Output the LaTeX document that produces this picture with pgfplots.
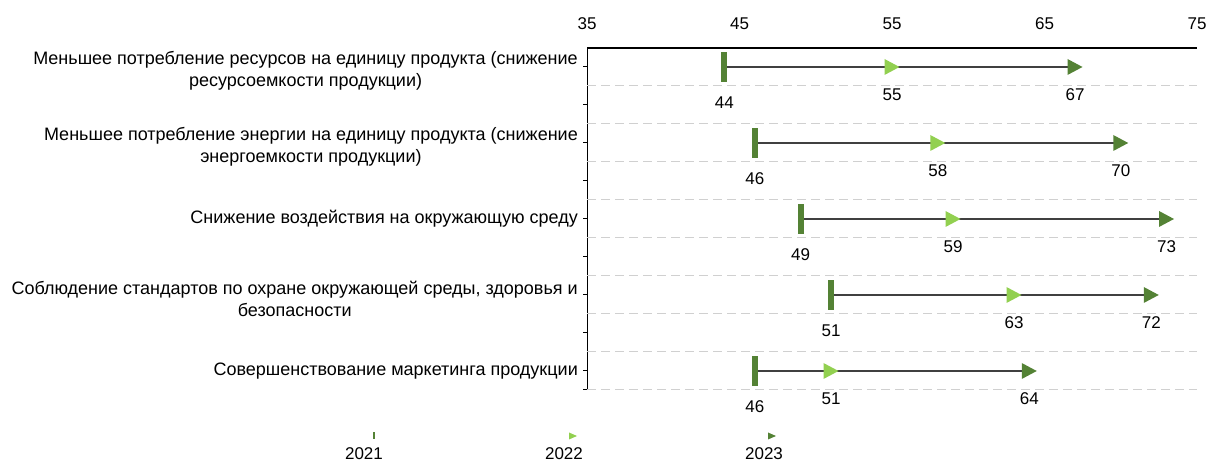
\documentclass[border=0pt]{standalone}
\usepackage{pgfplots}
\pgfplotsset{compat=1.18}
\usepackage{pgfplotstable}
\usepackage{fontspec}
\setmainfont{Liberation Sans}
\definecolor{dgreen}{HTML}{548235}
\definecolor{lgreen}{HTML}{92D050}
\definecolor{lineg}{HTML}{404040}
\definecolor{gridg}{HTML}{D0D0D0}

\pgfdeclareplotmark{rtri}{\pgfpathmoveto{\pgfqpoint{-7.5bp}{-8bp}}\pgfpathlineto{\pgfqpoint{7.5bp}{0bp}}\pgfpathlineto{\pgfqpoint{-7.5bp}{8bp}}\pgfpathclose\pgfusepathqfill}
\pgfdeclareplotmark{vbar}{\pgfpathrectangle{\pgfqpoint{-3bp}{-15bp}}{\pgfqpoint{6bp}{30bp}}\pgfusepathqfill}
\newcommand{\lowstrut}{\rule{0pt}{21bp}}

% y: row position (top row = 8.5), a = 2021, b = 2022, c = 2023
\pgfplotstableread{
y a b c
8.5 44 55 67
6.5 46 58 70
4.5 49 59 73
2.5 51 63 72
0.5 46 51 64
}\datatable

\begin{document}
\begin{tikzpicture}[x=1bp,y=1bp]
\useasboundingbox (0,0) rectangle (1208,462);
\begin{axis}[
  at={(587bp,72bp)}, anchor=south west,
  width=610bp, height=342bp, scale only axis,
  xmin=35, xmax=75, ymin=0, ymax=9,
  /pgf/number format/assume math mode=true,
  axis x line*=top, axis y line*=left,
  axis line style={black},
  x axis line style={line width=1.6bp},
  y axis line style={line width=1bp},
  xtick={35,45,55,65,75},
  xtick style={draw=none},
  xticklabel style={font=\fontsize{17bp}{20bp}\selectfont, anchor=base, yshift=14bp},
  ytick={0,0.5,1.5,2.5,3.5,4.5,5.5,6.5,7.5,8.5},
  yticklabels={,{Совершенствование маркетинга продукции},,{\lowstrut Соблюдение стандартов по охране окружающей среды, здоровья и\\безопасности},,{Снижение воздействия на окружающую среду},,{\lowstrut Меньшее потребление энергии на единицу продукта (снижение\\энергоемкости продукции)},,{\lowstrut Меньшее потребление ресурсов на единицу продукта (снижение\\ресурсоемкости продукции)}},
  yticklabel style={font=\fontsize{18bp}{22bp}\selectfont, align=center, anchor=east, inner sep=0pt, xshift=-5bp},
  tick align=outside,
  major tick length=4bp,
  ytick style={black, line width=1bp},
  extra y ticks={0,1,2,3,4,5,6,7,8},
  extra y tick labels={},
  extra y tick style={grid=major, major tick length=0pt, major grid style={gridg, line width=1bp, dash pattern=on 9bp off 5bp}},
  point meta=x,
  clip=false,
  nodes near coords={\pgfmathprintnumber{\pgfplotspointmeta}},
  every node near coord/.append style={font=\fontsize{17bp}{20bp}\selectfont, text=black, anchor=center},
]
\addplot[lineg, line width=1.6bp, nodes near coords=] coordinates {(44,8.5) (67,8.5)};
\addplot[lineg, line width=1.6bp, nodes near coords=] coordinates {(46,6.5) (70,6.5)};
\addplot[lineg, line width=1.6bp, nodes near coords=] coordinates {(49,4.5) (73,4.5)};
\addplot[lineg, line width=1.6bp, nodes near coords=] coordinates {(51,2.5) (72,2.5)};
\addplot[lineg, line width=1.6bp, nodes near coords=] coordinates {(46,0.5) (64,0.5)};
\addplot[only marks, mark=vbar, color=dgreen, every node near coord/.append style={yshift=-36bp}] table[x=a, y=y] {\datatable};
\addplot[only marks, mark=rtri, color=lgreen, every node near coord/.append style={yshift=-28bp}] table[x=b, y=y] {\datatable};
\addplot[only marks, mark=rtri, color=dgreen, every node near coord/.append style={yshift=-28bp}] table[x=c, y=y] {\datatable};
\end{axis}
% legend
\fill[dgreen] (373,22.5) rectangle (375,29.5);
\fill[lgreen] (569,22.5) -- (577,26) -- (569,29.5) -- cycle;
\fill[dgreen] (768,22.5) -- (776,26) -- (768,29.5) -- cycle;
\node[anchor=base, inner sep=0pt, font=\fontsize{17bp}{20bp}\selectfont] at (364,2) {2021};
\node[anchor=base, inner sep=0pt, font=\fontsize{17bp}{20bp}\selectfont] at (564,2) {2022};
\node[anchor=base, inner sep=0pt, font=\fontsize{17bp}{20bp}\selectfont] at (764,2) {2023};
\end{tikzpicture}
\end{document}
